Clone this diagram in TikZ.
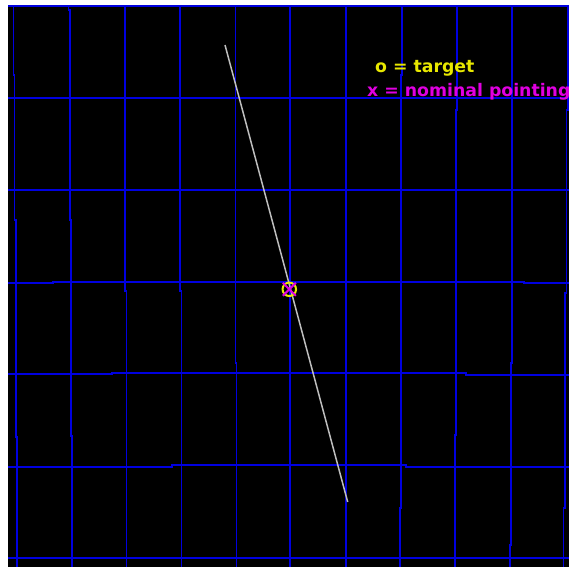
\documentclass[tikz,border=0pt]{standalone}
\usepackage{fontspec}
\setmainfont{DejaVu Sans}
\usetikzlibrary{shapes.misc}
\definecolor{gBlue}{HTML}{0000E0}
\definecolor{cYellow}{HTML}{E8E800}
\definecolor{cMagenta}{HTML}{E000E0}
\definecolor{cTrack}{HTML}{BEBEBE}
\begin{document}
\begin{tikzpicture}[
    x=1pt, y=-1pt,
    gridline/.style={gBlue, line width=1.8pt},
    track/.style={cTrack, line width=1.5pt},
    legend/.style={anchor=base west, inner sep=0pt, font=\fontsize{17.3}{20}\selectfont\bfseries}
]
\useasboundingbox (0,0) rectangle (569,567);
\fill[black] (8,5) rectangle (569,567);

% vertical grid lines
\draw[gridline] (13.5,6) -- (13.5,75) -- (14.5,75) -- (14.5,220) -- (16,220) -- (16,437) -- (17,437) -- (17,567);
\draw[gridline] (68.5,6) -- (68.5,10) -- (70,10) -- (70,220) -- (71,220) -- (71,436) -- (72,436) -- (72,567);
\draw[gridline] (125,6) -- (125,291) -- (126.5,291) -- (126.5,567);
\draw[gridline] (180,6) -- (180,291) -- (181.5,291) -- (181.5,567);
\draw[gridline] (235.5,6) -- (235.5,363) -- (236.5,363) -- (236.5,567);
\draw[gridline] (290.3,6) -- (290.3,567);
\draw[gridline] (345.7,6) -- (345.7,567);
\draw[gridline] (402,6) -- (402,75) -- (401,75) -- (401,508) -- (399.7,508) -- (399.7,567);
\draw[gridline] (457.3,6) -- (457.3,110) -- (456,110) -- (456,435) -- (455,435) -- (455,567);
\draw[gridline] (512.3,6) -- (512.3,110) -- (511.7,110) -- (511.7,363) -- (510.7,363) -- (510.7,545) -- (510,545) -- (510,567);
\draw[gridline] (568,6) -- (568,110) -- (566.5,110) -- (566.5,293) -- (565,293) -- (565,508) -- (563.5,508) -- (563.5,567);

% horizontal grid lines
\draw[gridline] (8,6) -- (569,6);
\draw[gridline] (8,98.3) -- (569,98.3);
\draw[gridline] (8,190) -- (569,190);
\draw[gridline] (8,282.7) -- (53,282.7) -- (53,281.7) -- (524,281.7) -- (524,283) -- (569,283);
\draw[gridline] (8,374.3) -- (112,374.3) -- (112,373.3) -- (466,373.3) -- (466,374.7) -- (569,374.7);
\draw[gridline] (8,466.7) -- (172,466.7) -- (172,465.3) -- (406,465.3) -- (406,466.7) -- (569,466.7);
\draw[gridline] (8,558.3) -- (569,558.3);

% scan track
\coordinate (trackStart) at (225,45);
\coordinate (trackEnd) at (347.7,502);
\draw[track] (trackStart) -- (trackEnd);

% target and pointing
\node[circle, draw=cYellow, line width=2pt, minimum size=13.5pt, inner sep=0pt] (target) at (289.3,289.3) {};
\node[cross out, draw=cMagenta, line width=2pt, minimum size=11pt, inner sep=0pt] (pointing) at (289.3,289.3) {};

% legend
\node[legend, text=cYellow] (lblTarget) at (375,72.7) {o = target};
\node[legend, text=cMagenta] (lblPointing) at (367,96.7) {x = nominal pointing};
\end{tikzpicture}
\end{document}
